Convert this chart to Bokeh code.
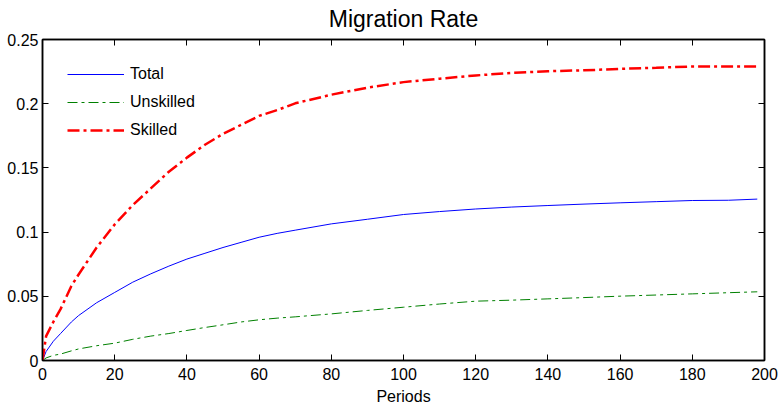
from bokeh.plotting import figure
from bokeh.models import (LinearAxis, FixedTicker, Legend, LegendItem, Range1d,
                          CustomLabelingPolicy)
from bokeh.embed import file_html
from bokeh.resources import INLINE

periods   = [0, 1, 3, 5, 8, 10, 15, 20, 25, 30, 35, 40, 45, 50, 55, 60, 65, 70,
             80, 90, 100, 110, 120, 130, 140, 150, 160, 170, 180, 190, 198]
total     = [0.0, 0.007, 0.015, 0.021, 0.030, 0.035, 0.045, 0.053, 0.061, 0.0675,
             0.0735, 0.079, 0.0835, 0.088, 0.092, 0.096, 0.099, 0.1015, 0.1064,
             0.110, 0.1137, 0.116, 0.118, 0.1195, 0.1207, 0.1218, 0.1228, 0.1237,
             0.1246, 0.1248, 0.1257]
unskilled = [0.0, 0.002, 0.004, 0.005, 0.0075, 0.009, 0.0115, 0.0135, 0.0165,
             0.019, 0.021, 0.0234, 0.0257, 0.0278, 0.030, 0.0317, 0.033, 0.034,
             0.0363, 0.039, 0.0415, 0.044, 0.0462, 0.047, 0.048, 0.049, 0.0501,
             0.051, 0.0519, 0.0528, 0.0535]
skilled   = [0.0, 0.019, 0.030, 0.040, 0.058, 0.067, 0.088, 0.106, 0.121, 0.134,
             0.147, 0.158, 0.168, 0.1765, 0.1835, 0.1905, 0.195, 0.2003, 0.207,
             0.2125, 0.2168, 0.2195, 0.222, 0.224, 0.2253, 0.226, 0.2271, 0.228,
             0.229, 0.229, 0.229]

x_ticks = [0, 20, 40, 60, 80, 100, 120, 140, 160, 180, 200]
y_ticks = [0, 0.05, 0.1, 0.15, 0.2, 0.25]
y_tick_labels = ["0", "0.05", "0.1", "0.15", "0.2", "0.25"]

FONT = "Liberation Sans"

p = figure(width=778, height=409, output_backend="svg", toolbar_location=None,
           x_range=Range1d(0, 200), y_range=Range1d(0, 0.25),
           min_border_left=42, min_border_right=14, min_border_top=39,
           min_border_bottom=49, x_axis_label="Periods")
p.background_fill_color = "white"
p.border_fill_color = "white"
p.grid.visible = False
p.outline_line_color = "black"
p.outline_line_width = 1.5

p.title.text = "Migration Rate"
p.title.text_font = FONT
p.title.text_font_size = "23px"
p.title.text_font_style = "normal"
p.title.text_color = "black"
p.title.align = "center"
p.title.standoff = 7

def style_axis(ax, size="16px"):
    ax.axis_line_color = "black"
    ax.axis_line_width = 1.5
    ax.major_tick_line_color = "black"
    ax.major_tick_in = 6
    ax.major_tick_out = 0
    ax.minor_tick_line_color = None
    ax.major_label_text_font = FONT
    ax.major_label_text_font_size = size
    ax.major_label_text_color = "black"
    ax.major_label_standoff = 4

p.xaxis.ticker = FixedTicker(ticks=x_ticks)
p.yaxis.ticker = FixedTicker(ticks=y_ticks)
p.yaxis.major_label_overrides = {t: l for t, l in zip(y_ticks, y_tick_labels)}
style_axis(p.xaxis[0])
style_axis(p.yaxis[0])
p.xaxis.major_label_standoff = 7
p.xaxis.axis_label_text_font = FONT
p.xaxis.axis_label_text_font_size = "16px"
p.xaxis.axis_label_text_font_style = "normal"
p.xaxis.axis_label_text_color = "black"
p.xaxis.axis_label_standoff = 5

# box ticks on top and right, without labels
top_ax = LinearAxis(ticker=FixedTicker(ticks=x_ticks),
                    major_label_policy=CustomLabelingPolicy(code="return []"))
style_axis(top_ax, size="1px")
top_ax.major_label_standoff = 0
p.add_layout(top_ax, "above")
right_ax = LinearAxis(ticker=FixedTicker(ticks=y_ticks),
                      major_label_policy=CustomLabelingPolicy(code="return []"))
style_axis(right_ax, size="1px")
right_ax.major_label_standoff = 0
p.add_layout(right_ax, "right")

r_total = p.line(periods, total, line_color="#0000FF", line_width=1)
r_unsk = p.line(periods, unskilled, line_color="#008000", line_width=1,
                line_dash="10 4 3 4")
r_skil = p.line(periods, skilled, line_color="#FF0000", line_width=2.5,
                line_dash="12 4 3 4")

legend = Legend(items=[LegendItem(label="Total", renderers=[r_total]),
                       LegendItem(label="Unskilled", renderers=[r_unsk]),
                       LegendItem(label="Skilled", renderers=[r_skil])],
                location="top_left")
legend.border_line_alpha = 0
legend.background_fill_alpha = 0
legend.label_text_font = FONT
legend.label_text_font_size = "16px"
legend.label_text_color = "black"
legend.glyph_width = 57
legend.glyph_height = 20
legend.label_height = 20
legend.label_standoff = 6
legend.spacing = 8
legend.margin = 10
legend.padding = 15
p.add_layout(legend, "center")

open("out.html", "w").write(file_html(p, INLINE))
